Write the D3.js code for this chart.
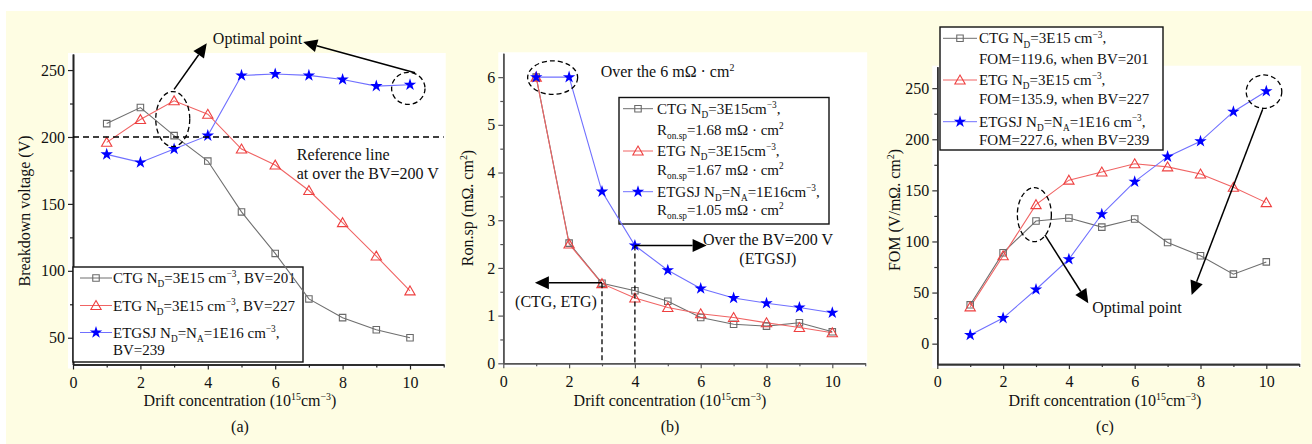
<!DOCTYPE html>
<head>
    <meta charset="utf-8">
    <script src="https://d3js.org/d3.v7.min.js"></script>
    <style>
        body { margin:0; background:#fff; }
        svg, svg text, svg tspan { font-family:"Liberation Serif","Times New Roman","DejaVu Serif",serif !important; }
        .axis text { font-size:16px; fill:#111; }
    </style>
</head>
<body>
<div id="chart"></div>
<script>

    // ******************** Data ************************
    var conc = [1, 2, 3, 4, 5, 6, 7, 8, 9, 10];

    // (a) breakdown voltage (V)
    var bvCTG   = [210, 222, 201, 182, 144, 113, 79, 65, 56, 50];
    var bvETG   = [196, 213, 227, 217, 191, 179, 160, 136, 111, 85];
    var bvETGSJ = [187, 181, 191, 201, 246, 247, 246, 243, 238, 239];

    // (b) Ron.sp (mOhm cm2)
    var ronCTG   = [6, 2.52, 1.68, 1.52, 1.30, 0.96, 0.82, 0.78, 0.85, 0.66];
    var ronETG   = [6, 2.50, 1.67, 1.37, 1.17, 1.04, 0.96, 0.85, 0.75, 0.64];
    var ronETGSJ = [6, 6, 3.6, 2.47, 1.95, 1.57, 1.37, 1.26, 1.17, 1.06];

    // (c) FOM (V/mOhm cm2)
    var fomCTG   = [38, 89, 120, 123, 114, 122, 99, 86, 68, 80];
    var fomETG   = [36, 86, 136, 160, 168, 176, 173, 166, 153, 138];
    var fomETGSJ = [8.5, 25, 53, 82.6, 126.6, 158.5, 183, 198, 227, 247];

    var xTicks = [0, 2, 4, 6, 8, 10];
    var xMinor = [1, 3, 5, 7, 9, 11];
    var bvTicks = [50, 100, 150, 200, 250];
    var bvMinor = [75, 125, 175, 225];
    var ronTicks = [0, 1, 2, 3, 4, 5, 6];
    var ronMinor = [0.5, 1.5, 2.5, 3.5, 4.5, 5.5];
    var fomTicks = [0, 50, 100, 150, 200, 250];
    var fomMinor = [25, 75, 125, 175, 225];

    var bvRef = 200;

    // ******************** Styles ************************
    var FONT = "'Liberation Serif','Times New Roman','DejaVu Serif',serif";
    var sty = {
        CTG:   {line: "#6f6f6f", mark: "#6a6a6a", sym: "square"},
        ETG:   {line: "#f06464", mark: "#ee4040", sym: "triangle"},
        ETGSJ: {line: "#7070ff", mark: "#0000ff", sym: "star"}
    };

    var W = 1312, H = 444;
    var svg = d3.select("#chart").append("svg").attr("width", W).attr("height", H)
        .attr("font-family", FONT);

    // pale yellow page
    svg.append("rect").attr("x", 6).attr("y", 11).attr("width", W - 6).attr("height", H - 11)
        .attr("fill", "#fefde3");

    // text with sub/superscripts: parts = [[str, "sub"|"sup"|undefined], ...]
    function richText(g, x, y, parts, size, anchor) {
        var t = g.append("text").attr("x", x).attr("y", y)
            .style("font-size", size + "px").style("font-family", FONT).attr("fill", "#111")
            .attr("text-anchor", anchor || "start");
        var shift = 0;
        parts.forEach(function (p) {
            var target = p[1] == "sub" ? size * 0.28 : p[1] == "sup" ? -size * 0.38 : 0;
            var ts = t.append("tspan").text(p[0]).attr("dy", target - shift);
            if (p[1]) ts.style("font-size", (size * 0.62) + "px");
            shift = target;
        });
        return t;
    }

    function symbolFor(name) {
        if (name == "square") return d3.symbol().type(d3.symbolSquare).size(42)();
        if (name == "triangle") return d3.symbol().type(d3.symbolTriangle).size(46)();
        return d3.symbol().type(d3.symbolStar).size(48)();
    }

    function drawMarker(g, key, x, y) {
        var s = sty[key];
        var p = g.append("path").attr("d", symbolFor(s.sym))
            .attr("transform", "translate(" + x + "," + (s.sym == "triangle" ? y + 1 : y) + ")");
        if (s.sym == "star") p.attr("fill", s.mark);
        else p.attr("fill", "none").attr("stroke", s.mark).attr("stroke-width", 1.1);
    }

    function arrow(g, x1, y1, x2, y2) {
        var len = 14, wid = 6.5;
        var dx = x2 - x1, dy = y2 - y1, d = Math.sqrt(dx * dx + dy * dy);
        var ux = dx / d, uy = dy / d;
        var bx = x2 - ux * len, by = y2 - uy * len;
        g.append("line").attr("x1", x1).attr("y1", y1).attr("x2", bx).attr("y2", by)
            .attr("stroke", "#000").attr("stroke-width", 1.5);
        g.append("path")
            .attr("d", "M" + x2 + "," + y2 + "L" + (bx - uy * wid) + "," + (by + ux * wid) +
                "L" + (bx + uy * wid) + "," + (by - ux * wid) + "Z")
            .attr("fill", "#000");
    }

    function ellipse(g, cx, cy, rx, ry) {
        g.append("ellipse").attr("cx", cx).attr("cy", cy).attr("rx", rx).attr("ry", ry)
            .attr("fill", "none").attr("stroke", "#000").attr("stroke-width", 1.3)
            .attr("stroke-dasharray", "5,3");
    }

    function drawPanel(p) {
        var g = svg.append("g");
        var x = d3.scaleLinear().domain([0, 11]).range(p.xr);
        var y = d3.scaleLinear().domain(p.yd).range(p.yr);

        // white plot area
        g.append("rect").attr("x", p.xr[0] - 5).attr("y", p.yr[1] - 1)
            .attr("width", p.xr[1] - p.xr[0] + 7).attr("height", p.yr[0] - p.yr[1] + 5)
            .attr("fill", "#fff");

        // axes
        g.append("g").attr("class", "axis").attr("transform", "translate(0," + p.yr[0] + ")")
            .call(d3.axisBottom(x).tickValues(xTicks).tickSize(5).tickSizeOuter(0).tickPadding(7).tickFormat(d3.format("d")));
        g.append("g").attr("transform", "translate(0," + p.yr[0] + ")")
            .call(d3.axisBottom(x).tickValues(xMinor).tickSize(3).tickSizeOuter(0).tickFormat(""));
        g.append("g").attr("class", "axis").attr("transform", "translate(" + p.xr[0] + ",0)")
            .call(d3.axisLeft(y).tickValues(p.yTicks).tickSize(5).tickSizeOuter(0).tickPadding(3).tickFormat(d3.format("d")));
        g.append("g").attr("transform", "translate(" + p.xr[0] + ",0)")
            .call(d3.axisLeft(y).tickValues(p.yMinor).tickSize(3).tickSizeOuter(0).tickFormat(""));
        g.selectAll("g").attr("font-family", FONT);
        g.selectAll(".domain").attr("stroke", p.axisColor).attr("stroke-width", 1.6);
        g.selectAll(".tick line").attr("stroke", p.axisColor).attr("stroke-width", 1.2);
        g.selectAll(".axis .tick text").style("font-size", "16px").style("font-family", FONT).attr("fill", "#111");

        // titles
        richText(g, p.xTitleX, 406, [["Drift concentration (10"], ["15", "sup"], ["cm"], ["\u22123", "sup"], [")"]], 16, "middle");
        richText(g, p.xTitleX, 432, [[p.cap]], 16, "middle");
        var yt = g.append("g").attr("transform", "translate(" + p.yTitle[0] + "," + p.yTitle[1] + ") rotate(-90)");
        richText(yt, 0, 5, p.yTitleParts, 16, "middle");

        // legend box
        var lg = g.append("g");
        lg.append("rect").attr("x", p.leg.x).attr("y", p.leg.y).attr("width", p.leg.w).attr("height", p.leg.h)
            .attr("fill", "#fff").attr("stroke", "#111").attr("stroke-width", 1.4);
        p.leg.rows.forEach(function (r) {
            if (r.key) {
                lg.append("line").attr("x1", p.leg.x + p.leg.l0).attr("x2", p.leg.x + p.leg.l1)
                    .attr("y1", r.y).attr("y2", r.y).attr("stroke", sty[r.key].line).attr("stroke-width", 1);
                drawMarker(lg, r.key, p.leg.x + (p.leg.l0 + p.leg.l1) / 2, r.y);
            }
            richText(lg, p.leg.x + p.leg.tx, r.y + 5, r.parts, 15);
        });

        // series
        var line = d3.line().x(function (d, i) { return x(conc[i]); }).y(function (d) { return y(d); });
        p.series.forEach(function (s) {
            g.append("path").datum(s.v).attr("d", line).attr("fill", "none")
                .attr("stroke", sty[s.key].line).attr("stroke-width", 1.1);
        });
        p.series.forEach(function (s) {
            s.v.forEach(function (d, i) { drawMarker(g, s.key, x(conc[i]), y(d)); });
        });

        p.extra(g, x, y);
    }

    // ******************** Panel (a) ************************
    drawPanel({
        xr: [73, 443.7], yr: [364.5, 54], yd: [30, 262],
        yTicks: bvTicks, yMinor: bvMinor, axisColor: "#222",
        xTitleX: 240, cap: "(a)", yTitle: [25, 211],
        yTitleParts: [["Breakdown voltage (V)"]],
        leg: {x: 73, y: 267, w: 230, h: 95, l0: 7, l1: 39, tx: 40, rows: [
            {y: 278, key: "CTG", parts: [["CTG N"], ["D", "sub"], ["=3E15 cm"], ["\u22123", "sup"], [", BV=201"]]},
            {y: 305.5, key: "ETG", parts: [["ETG N"], ["D", "sub"], ["=3E15 cm"], ["\u22123", "sup"], [", BV=227"]]},
            {y: 332.5, key: "ETGSJ", parts: [["ETGSJ N"], ["D", "sub"], ["=N"], ["A", "sub"], ["=1E16 cm"], ["\u22123", "sup"], [","]]},
            {y: 350, parts: [["BV=239"]]}
        ]},
        series: [{key: "CTG", v: bvCTG}, {key: "ETG", v: bvETG}, {key: "ETGSJ", v: bvETGSJ}],
        extra: function (g, x, y) {
            g.append("line").attr("x1", x(0)).attr("x2", x(11)).attr("y1", y(bvRef)).attr("y2", y(bvRef))
                .attr("stroke", "#000").attr("stroke-width", 1.4).attr("stroke-dasharray", "6,4");
            richText(g, x(6.64), y(186.6) + 5, [["Reference line"]], 16);
            richText(g, x(6.64), y(172.6) + 5, [["at over the BV=200 V"]], 16);
            ellipse(g, x(2.96), y(213.4), 17, 27.5);
            ellipse(g, x(9.95), y(236.3), 16.7, 16);
            arrow(g, x(3.0), y(235.6), x(3.97), y(270));
            arrow(g, x(10.15), y(248), x(6.83), y(271));
            richText(g, x(4.15), y(273) + 5, [["Optimal point"]], 16);
        }
    });

    // ******************** Panel (b) ************************
    drawPanel({
        xr: [503.3, 865.2], yr: [363.3, 53.3], yd: [0, 6.5],
        yTicks: ronTicks, yMinor: ronMinor, axisColor: "#555",
        xTitleX: 670, cap: "(b)", yTitle: [468, 208],
        yTitleParts: [["Ron.sp (m\u03A9. cm"], ["2", "sup"], [")"]],
        leg: {x: 619, y: 97.5, w: 210, h: 126.5, l0: 4, l1: 34, tx: 38, rows: [
            {y: 108.7, key: "CTG", parts: [["CTG N"], ["D", "sub"], ["=3E15cm"], ["\u22123", "sup"], [","]]},
            {y: 130, parts: [["R"], ["on.sp", "sub"], ["=1.68 m\u03A9 \u00B7 cm"], ["2", "sup"]]},
            {y: 151, key: "ETG", parts: [["ETG N"], ["D", "sub"], ["=3E15cm"], ["\u22123", "sup"], [","]]},
            {y: 170, parts: [["R"], ["on.sp", "sub"], ["=1.67 m\u03A9 \u00B7 cm"], ["2", "sup"]]},
            {y: 191.7, key: "ETGSJ", parts: [["ETGSJ N"], ["D", "sub"], ["=N"], ["A", "sub"], ["=1E16cm"], ["\u22123", "sup"], [","]]},
            {y: 210, parts: [["R"], ["on.sp", "sub"], ["=1.05 m\u03A9 \u00B7 cm"], ["2", "sup"]]}
        ]},
        series: [{key: "CTG", v: ronCTG}, {key: "ETG", v: ronETG}, {key: "ETGSJ", v: ronETGSJ}],
        extra: function (g, x, y) {
            [[3, ronCTG[2]], [4, ronETGSJ[3]]].forEach(function (d) {
                g.append("line").attr("x1", x(d[0])).attr("x2", x(d[0])).attr("y1", y(d[1])).attr("y2", y(0))
                    .attr("stroke", "#000").attr("stroke-width", 1.3).attr("stroke-dasharray", "5,3");
            });
            ellipse(g, x(1.5), y(5.99), 25, 16.8);
            richText(g, x(2.96), y(6.11) + 5, [["Over the 6 m\u03A9 \u00B7 cm"], ["2", "sup"]], 16);
            arrow(g, x(3), y(1.69), x(0.96), y(1.69));
            richText(g, x(1.6), y(1.29) + 5, [["(CTG, ETG)"]], 16, "middle");
            arrow(g, x(4), y(2.47), x(6.18), y(2.47));
            richText(g, x(6.07), y(2.585) + 5, [["Over the BV=200 V"]], 16);
            richText(g, x(8.04), y(2.18) + 5, [["(ETGSJ)"]], 16, "middle");
        }
    });

    // ******************** Panel (c) ************************
    drawPanel({
        xr: [937.3, 1299.2], yr: [364.1, 66.7], yd: [-20, 271],
        yTicks: fomTicks, yMinor: fomMinor, axisColor: "#333",
        xTitleX: 1105, cap: "(c)", yTitle: [895, 210],
        yTitleParts: [["FOM (V/m\u03A9. cm"], ["2", "sup"], [")"]],
        leg: {x: 940, y: 27, w: 223, h: 123, l0: 3, l1: 37, tx: 39, rows: [
            {y: 38.3, key: "CTG", parts: [["CTG N"], ["D", "sub"], ["=3E15 cm"], ["\u22123", "sup"], [","]]},
            {y: 59, parts: [["FOM=119.6, when BV=201"]]},
            {y: 80, key: "ETG", parts: [["ETG N"], ["D", "sub"], ["=3E15 cm"], ["\u22123", "sup"], [","]]},
            {y: 99.3, parts: [["FOM=135.9, when BV=227"]]},
            {y: 121.7, key: "ETGSJ", parts: [["ETGSJ N"], ["D", "sub"], ["=N"], ["A", "sub"], ["=1E16 cm"], ["\u22123", "sup"], [","]]},
            {y: 140, parts: [["FOM=227.6, when BV=239"]]}
        ]},
        series: [{key: "CTG", v: fomCTG}, {key: "ETG", v: fomETG}, {key: "ETGSJ", v: fomETGSJ}],
        extra: function (g, x, y) {
            ellipse(g, x(2.95), y(126.2), 17, 27);
            ellipse(g, x(9.93), y(246.6), 17.8, 16.7);
            arrow(g, x(3.27), y(106.4), x(4.59), y(39.5));
            arrow(g, x(9.89), y(229.4), x(7.73), y(47.7));
            richText(g, x(4.71), y(34.6) + 5, [["Optimal point"]], 16);
        }
    });

</script>
</body>
